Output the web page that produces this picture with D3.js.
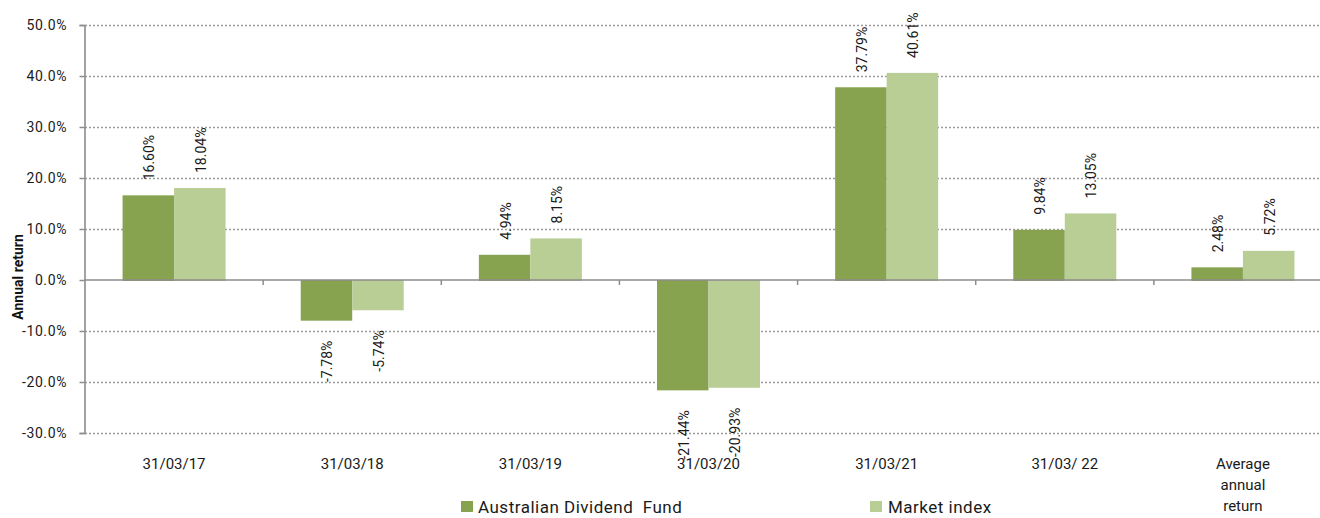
<!DOCTYPE html>
<html>
<head>
<meta charset="utf-8">
<script src="https://cdn.jsdelivr.net/npm/d3@7"></script>
<style>
  html, body { margin: 0; padding: 0; background: #fff; }
  svg { display: block; font-family: Roboto, "Liberation Sans", sans-serif; }
  text { white-space: pre; }
</style>
</head>
<body>
<svg id="chart" width="1320" height="518"></svg>
<script>
const categories = ["31/03/17", "31/03/18", "31/03/19", "31/03/20", "31/03/21", "31/03/ 22", "Average annual return"];
const seriesNames = ["Australian Dividend  Fund", "Market index"];
const fundValues = [16.60, -7.78, 4.94, -21.44, 37.79, 9.84, 2.48];
const indexValues = [18.04, -5.74, 8.15, -20.93, 40.61, 13.05, 5.72];
const yTicks = [-30, -20, -10, 0, 10, 20, 30, 40, 50];
const colors = ["#87a34f", "#b8ce95"];

const svg = d3.select("#chart");
const W = 1320, H = 518;

const x = d3.scaleBand().domain(categories).range([85, 1332]).padding(0);
const sub = d3.scaleBand().domain(seriesNames).range([-51.5, 51.5]).padding(0);
const y = d3.scaleLinear().domain([-30, 50]).range([433, 25]);

const data = categories.map((c, i) => ({
  cat: c,
  vals: [
    { s: seriesNames[0], v: fundValues[i], color: colors[0] },
    { s: seriesNames[1], v: indexValues[i], color: colors[1] }
  ]
}));

// grid lines
svg.append("g").selectAll("line").data(yTicks.filter(t => t !== 0)).join("line")
  .attr("x1", 85).attr("x2", W)
  .attr("y1", d => Math.round(y(d)) + 0.5).attr("y2", d => Math.round(y(d)) + 0.5)
  .attr("stroke", "#9a9a9a").attr("stroke-width", 1.3).attr("stroke-dasharray", "2,2");

// bars
const groups = svg.append("g").selectAll("g").data(data).join("g")
  .attr("transform", d => `translate(${x(d.cat) + x.bandwidth() / 2},0)`);

groups.selectAll("rect").data(d => d.vals).join("rect")
  .attr("x", d => sub(d.s))
  .attr("width", sub.bandwidth())
  .attr("y", d => Math.min(y(d.v), y(0)))
  .attr("height", d => Math.abs(y(d.v) - y(0)) + 1)
  .attr("fill", d => d.color);

// zero line
svg.append("line").attr("x1", 85).attr("x2", W)
  .attr("y1", y(0)).attr("y2", y(0))
  .attr("stroke", "#8c8c8c").attr("stroke-width", 1.6);

// category ticks
svg.append("g").selectAll("line").data(categories.slice(1)).join("line")
  .attr("x1", d => x(d)).attr("x2", d => x(d))
  .attr("y1", y(0)).attr("y2", y(0) + 5)
  .attr("stroke", "#8c8c8c").attr("stroke-width", 1.5);

// y axis
const yAxis = d3.axisLeft(y).tickValues(yTicks).tickSize(5).tickFormat(d => d.toFixed(1) + "%");
const ya = svg.append("g").attr("transform", "translate(84.5,0)").call(yAxis);
ya.select(".domain").attr("stroke", "#8c8c8c").attr("stroke-width", 1.6);
ya.selectAll(".tick line").attr("stroke", "#8c8c8c").attr("stroke-width", 1.5);
ya.selectAll(".tick text")
  .attr("x", -17.5).attr("dy", "0.35em")
  .attr("fill", "#1a1a1a").style("font-size", "14px").style("letter-spacing", "0.6px")
  .style("font-family", "Roboto, sans-serif");

// y axis title
svg.append("text")
  .attr("transform", "translate(18,277) rotate(-90)")
  .attr("text-anchor", "middle").attr("dy", "0.35em")
  .style("font-size", "14px").style("font-weight", "bold").attr("fill", "#111")
  .text("Annual return");

// value labels
groups.selectAll("text.val").data(d => d.vals).join("text")
  .attr("class", "val")
  .attr("transform", d => {
    const cx = sub(d.s) + sub.bandwidth() / 2 + 1;
    const yy = d.v >= 0 ? y(d.v) - 15 : y(d.v) + 21;
    return `translate(${cx},${yy}) rotate(-90)`;
  })
  .attr("text-anchor", d => d.v >= 0 ? "start" : "end")
  .attr("dy", "0.35em")
  .style("font-size", "14px").attr("fill", "#1a1a1a")
  .text(d => d.v.toFixed(2) + "%");

// category labels
const catLabels = svg.append("g").selectAll("text").data(categories).join("text")
  .attr("x", d => x(d) + x.bandwidth() / 2)
  .attr("y", 469)
  .attr("text-anchor", "middle")
  .style("font-size", "15px").attr("fill", "#1a1a1a");
catLabels.each(function(d) {
  const words = d.startsWith("Average") ? ["Average", "annual", "return"] : [d];
  d3.select(this).selectAll("tspan").data(words).join("tspan")
    .attr("x", d3.select(this).attr("x"))
    .attr("dy", (w, i) => i === 0 ? 0 : 21)
    .text(w => w);
});

// legend
const legendPos = [{ rx: 461, tx: 478 }, { rx: 870, tx: 888 }];
const lg = svg.append("g").selectAll("g").data(seriesNames).join("g");
lg.append("rect")
  .attr("x", (d, i) => legendPos[i].rx).attr("y", 501)
  .attr("width", 12).attr("height", 11)
  .attr("fill", (d, i) => colors[i]);
lg.append("text")
  .attr("x", (d, i) => legendPos[i].tx).attr("y", 513)
  .style("font-size", "17px").style("letter-spacing", "0.5px").attr("fill", "#1a1a1a")
  .text(d => d);
</script>
</body>
</html>
